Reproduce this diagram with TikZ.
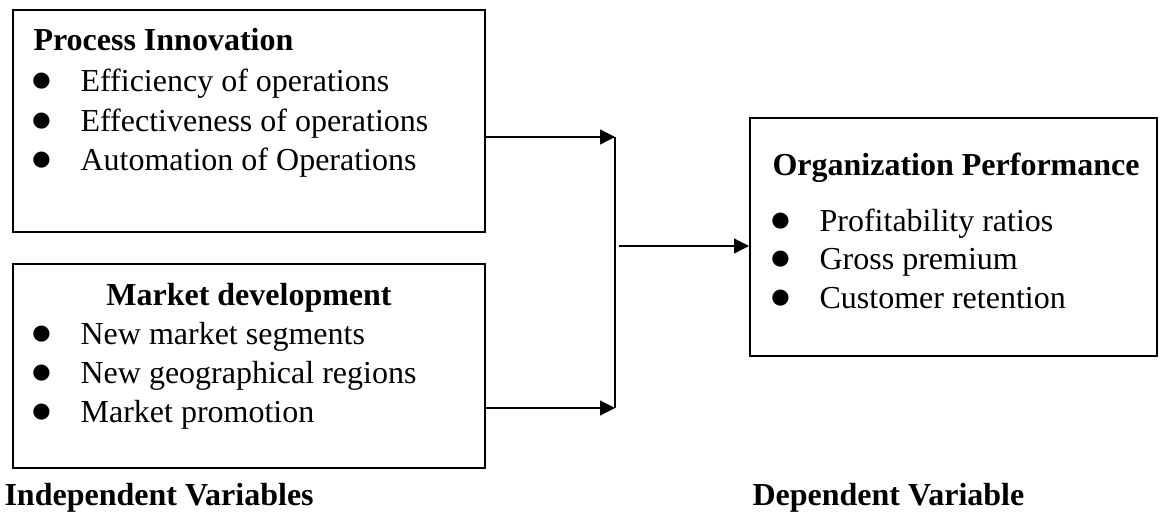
\documentclass[tikz,border=0pt]{standalone}
\usepackage{fontspec}
\setmainfont{Liberation Serif}
\usepackage{tikz}
\usetikzlibrary{positioning, arrows.meta, fit}

\newcommand{\blt}{\makebox[18.4pt][l]{\smash{\scalebox{1.3}{$\bullet$}}}}

\begin{document}
\begin{tikzpicture}[x=0.375pt, y=-0.375pt, >={Triangle[length=5.6pt, width=5.6pt]},
    font=\fontsize{12}{14.8}\selectfont,
    box/.style={draw, line width=0.75pt, inner sep=0pt},
    link/.style={->, line width=0.45pt},
    txt/.style={anchor=base west, inner sep=0pt},
    head/.style={txt, font=\fontsize{12}{14.8}\selectfont\bfseries}]
      \useasboundingbox (0,0) rectangle (1160,511);

      % Boxes
      \node[box, fit={(13,10) (485,232)}] (piBox) {};
      \node[box, fit={(13,264) (485,468)}] (mdBox) {};
      \node[box, fit={(750,118) (1157,356)}] (opBox) {};

      % Process innovation
      \node[head] (piTitle) at (33,50) {Process Innovation};
      \node[txt] (pi1) at (31,91) {\blt Efficiency of operations};
      \node[txt] (pi2) at (31,131) {\blt Effectiveness of operations};
      \node[txt] (pi3) at (31,170) {\blt Automation of Operations};

      % Market development
      \node[head, anchor=base] (mdTitle) at (249,305) {Market development};
      \node[txt] (md1) at (31,344) {\blt New market segments};
      \node[txt] (md2) at (31,383) {\blt New geographical regions};
      \node[txt] (md3) at (31,422) {\blt Market promotion};

      % Organization performance
      \node[head] (opTitle) at (772,175) {Organization Performance};
      \node[txt] (op1) at (770,231) {\blt Profitability ratios};
      \node[txt] (op2) at (770,269) {\blt Gross premium};
      \node[txt] (op3) at (770,308) {\blt Customer retention};

      % Variable labels
      \node[head] (indLabel) at (4,505) {Independent Variables};
      \node[head] (depLabel) at (752,505) {Dependent Variable};

      % Junction
      \coordinate (jTop) at (615,137);
      \coordinate (jBot) at (615,408);
      \coordinate (jMid) at (619,246);

      \draw[link] (piBox.east |- jTop) -- (jTop);
      \draw[link] (mdBox.east |- jBot) -- (jBot);
      \draw[line width=0.45pt] (jTop) -- (jBot);
      \draw[link] (jMid) -- (opBox.west |- jMid);
    \end{tikzpicture}
\end{document}
